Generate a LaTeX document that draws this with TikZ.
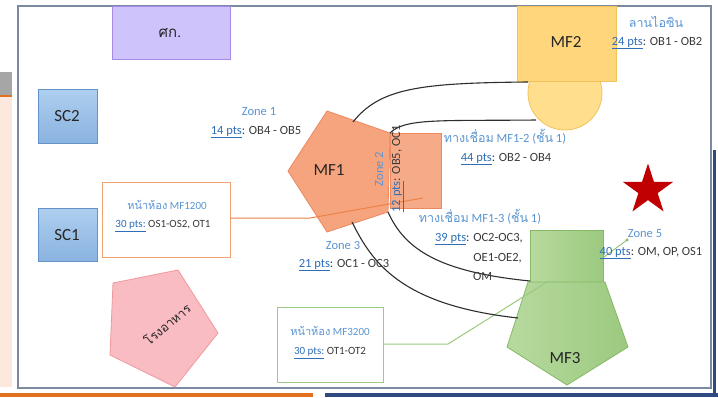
\documentclass[tikz,border=0pt]{standalone}
\usepackage{fontspec}
\setmainfont{Carlito}
\newfontfamily\thai[Script=Thai]{Loma}
\usetikzlibrary{shapes.geometric}
\definecolor{peach}{HTML}{FCE8DC}
\definecolor{stripgray}{HTML}{A6A6A6}
\definecolor{orangebar}{HTML}{E2701E}
\definecolor{navy}{HTML}{2F4A80}
\definecolor{framec}{HTML}{7A8AA0}
\definecolor{txtgray}{HTML}{3A3A3A}
\definecolor{zoneblue}{HTML}{5A95D2}
\definecolor{ptsblue}{HTML}{2E6FB8}
\definecolor{lav}{HTML}{CEC3FB}
\definecolor{lavb}{HTML}{A68CE6}
\definecolor{sclight}{HTML}{AECFEF}
\definecolor{scdark}{HTML}{8AB3E0}
\definecolor{scb}{HTML}{6493C8}
\definecolor{mfyel}{HTML}{FFD67C}
\definecolor{mfyelb}{HTML}{F2C35A}
\definecolor{circyel}{HTML}{FFDF8E}
\definecolor{mforg}{HTML}{F5A47E}
\definecolor{mforgb}{HTML}{EC8961}
\definecolor{grnl}{HTML}{B7DA9F}
\definecolor{grnd}{HTML}{9CC97F}
\definecolor{grnb}{HTML}{86B866}
\definecolor{pinkf}{HTML}{F9BCC2}
\definecolor{pinkb}{HTML}{EE9A9E}
\definecolor{boxorg}{HTML}{F2A46E}
\definecolor{lineorg}{HTML}{EB8249}
\definecolor{boxgrn}{HTML}{9CCB84}
\definecolor{curvec}{HTML}{2E2E2E}
\definecolor{starred}{HTML}{C00000}
\newcommand{\ptsu}[1]{{\color{ptsblue}\underline{#1}}}
\tikzset{
  lbl/.style={font=\fontsize{12.5}{14}\selectfont, text=txtgray, inner sep=0},
  zone/.style={font=\fontsize{12.5}{14}\selectfont, text=zoneblue, inner sep=0},
  big/.style={font=\fontsize{17}{20}\selectfont, text=black!85, inner sep=0},
  curve/.style={draw=curvec, line width=1.1pt},
  scbox/.style={top color=sclight, bottom color=scdark, draw=scb, line width=0.8pt},
}
\begin{document}
\begin{tikzpicture}[x=1pt,y=-1pt]
\useasboundingbox (0,0) rectangle (718,397);
% left strip and bottom bars
\fill[peach] (0,97) rectangle (12,387);
\fill[stripgray] (0,72) rectangle (12,95);
\fill[orangebar] (0,95) rectangle (12,97);
\fill[orangebar] (0,393) rectangle (313,397);
\fill[navy] (325,393) rectangle (718,397);
\fill[navy] (713,150) rectangle (715.5,397);
% frame
\draw[framec, fill=white, line width=1.2pt] (18,6) rectangle (711,388);
% boxes
\draw[fill=lav, draw=lavb, line width=0.8pt] (112,6) rectangle (230,59);
\node[big, font=\thai\fontsize{15}{18}\selectfont] (sk) at (170,33) {ศก.};
\draw[scbox] (38,89) rectangle (97,143);
\node[big] (sc2) at (67,116) {SC2};
\draw[scbox] (38,208) rectangle (97,261);
\node[big] (sc1) at (67,235) {SC1};
% MF1200 box
\draw[draw=boxorg, fill=white, line width=0.9pt] (102,182) rectangle (230,257);
\coordinate (b1r) at (230,218);
\node[zone, font=\fontsize{11}{13}\selectfont] (b1t) at (167,205) {{\thai หน้าห้อง} MF1200};
\node[lbl, font=\fontsize{11}{13}\selectfont] (b1p) at (163,226) {\ptsu{30 pts:} OS1-OS2, OT1};
% MF3200 box
\draw[draw=boxgrn, fill=white, line width=0.9pt] (277,307) rectangle (383,382);
\coordinate (b3r) at (383,344);
\node[zone, font=\fontsize{11}{13}\selectfont] (b3t) at (330,331) {{\thai หน้าห้อง} MF3200};
\node[lbl, font=\fontsize{11}{13}\selectfont] (b3p) at (330,353) {\ptsu{30 pts:} OT1-OT2};
% canteen pentagon
\draw[fill=pinkf, draw=pinkb, line width=0.8pt] (178,270) -- (218,333) -- (175,387) -- (110,355) -- (113,283) -- cycle;
\node[big, font=\thai\fontsize{12.5}{15}\selectfont, rotate=40] (can) at (167,324) {โรงอาหาร};
% MF2 and circle
\draw[fill=circyel, draw=mfyelb, line width=0.8pt] (565,93) circle (37);
\draw[fill=mfyel, draw=mfyelb, line width=0.8pt] (517,6) rectangle (616,81);
\node[big] (mf2) at (566,42) {MF2};
\coordinate (mf2a) at (528,82);
\coordinate (mf2b) at (536,120);
% MF1 pentagon and zone 2
\draw[fill=mforg, draw=mforgb, line width=0.8pt] (288,171) -- (327,111) -- (390,133) -- (388,212) -- (327,232) -- cycle;
\draw[fill=mforg, fill opacity=0.92, draw=mforgb, line width=0.8pt] (390,133) rectangle (441,208);
\node[big] (mf1) at (329,170) {MF1};
\coordinate (mf1a) at (353,122);
\coordinate (mf1b) at (390,133);
\coordinate (mf1c) at (388,212);
\coordinate (mf1d) at (352,222);
\coordinate (z2p) at (423,198);
% MF3
\draw[left color=grnl, right color=grnd, draw=grnb, line width=0.8pt] (530,230) rectangle (603,282);
\draw[left color=grnl, right color=grnd, draw=grnb, line width=0.8pt] (528,282) -- (605,282) -- (628,347) -- (567,385) -- (507,347) -- cycle;
\node[big] (mf3) at (565,358) {MF3};
\coordinate (mf3a) at (530,281);
\coordinate (mf3b) at (518,318);
\coordinate (mf3c) at (547,282);
\coordinate (mf3r) at (604,257);
% connectors
\draw[lineorg, line width=1pt] (b1r) -- (310,218) -- (z2p);
\draw[grnd, line width=1pt] (b3r) -- (448,344) -- (mf3c);
\draw[curve] (mf1a) .. controls (380,88) and (420,83) .. (mf2a);
\draw[curve] (mf1b) .. controls (405,118) and (440,121) .. (mf2b);
\draw[curve] (mf1c) .. controls (405,250) and (440,272) .. (mf3a);
\draw[curve] (mf1d) .. controls (372,262) and (400,305) .. (mf3b);
\coordinate (z5p) at (627,240);
\draw[grnb, line width=0.8pt] (mf3r) -- (z5p);
\fill[grnb] (z5p) circle (1.6);
% star
\node[star, star points=5, star point ratio=2.618, fill=starred, minimum size=53pt, inner sep=0] (star) at (648,190) {};
% labels
\node[zone] (z1) at (259,112) {Zone 1};
\node[lbl] (z1p) at (256,132) {\ptsu{14 pts}: OB4 - OB5};
\node[zone] (z3) at (343,245) {Zone 3};
\node[lbl] (z3p) at (344,265) {\ptsu{21 pts}: OC1 - OC3};
\node[zone, rotate=90] (z2) at (379,169) {Zone 2};
\node[lbl, rotate=90] (z2p2) at (398,169) {\ptsu{12 pts}: OB5, OC1};
\node[zone] (ais) at (656,22) {\thai ลานไอซิน};
\node[lbl] (aisp) at (657,43) {\ptsu{24 pts}: OB1 - OB2};
\node[zone] (w12) at (505,137) {{\thai ทางเชื่อม} MF1-2 ({\thai ชั้น} 1)};
\node[lbl] (w12p) at (506,159) {\ptsu{44 pts}: OB2 - OB4};
\node[zone] (w13) at (480,217) {{\thai ทางเชื่อม} MF1-3 ({\thai ชั้น} 1)};
\node[lbl, anchor=east] (w13p) at (523,239) {\ptsu{39 pts}: OC2-OC3,};
\node[lbl, anchor=east] (w13q) at (522,258) {OE1-OE2,};
\node[lbl, anchor=west] (w13r) at (473,276) {OM};
\node[zone] (z5) at (645,234) {Zone 5};
\node[lbl] (z5p2) at (651,253) {\ptsu{40 pts}: OM, OP, OS1};
\end{tikzpicture}
\end{document}
